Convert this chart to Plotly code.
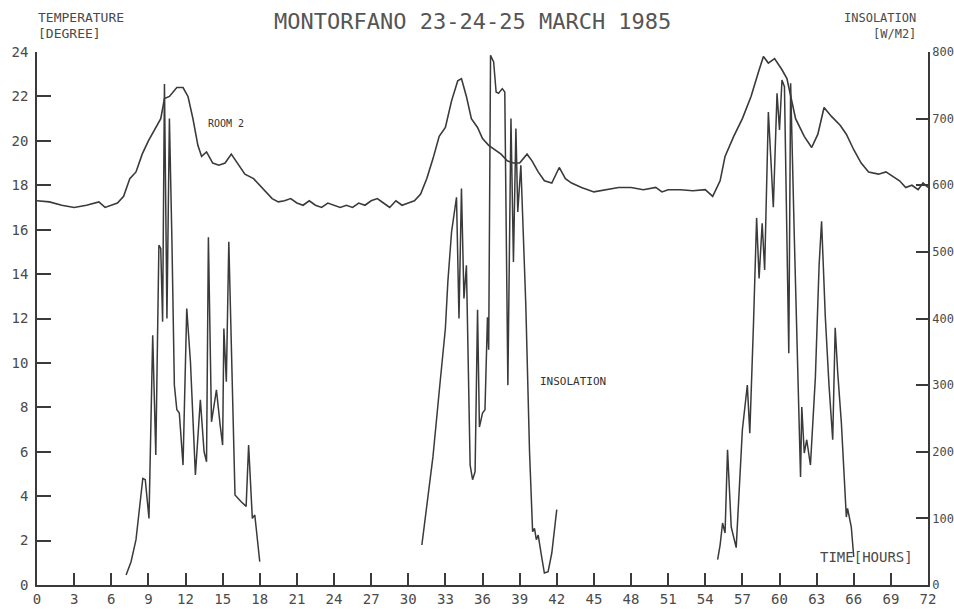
import plotly.graph_objects as go

# ---- data ----
temp_hours = [0, 1, 2, 3, 4, 5, 5.5, 6, 6.5, 7, 7.5, 8, 8.5, 9, 9.5, 10, 10.3, 10.7, 11.3, 11.8,
              12.2, 12.6, 13.0, 13.3, 13.7, 14.2, 14.7, 15.2, 15.7, 16.2, 16.8, 17.5, 18.0, 18.5,
              19.0, 19.5, 20.0, 20.5, 21.0, 21.5, 22, 22.5, 23, 23.5, 24, 24.5, 25, 25.5, 26, 26.5,
              27, 27.5, 28, 28.5, 29, 29.5, 30, 30.5, 31, 31.5, 32, 32.5, 33, 33.5, 34.0, 34.3,
              34.7, 35.1, 35.6, 36, 36.5, 37, 37.5, 38, 38.5, 39, 39.6, 40, 40.5, 41, 41.6, 42.2,
              42.7, 43.2, 44, 45, 46, 47, 48, 49, 50, 50.5, 51, 52, 53, 54, 54.6, 55.2, 55.6, 56.3,
              57, 57.7, 58.3, 58.7, 59.1, 59.6, 60.2, 60.6, 61.3, 62, 62.6, 63.1, 63.6, 64.2, 64.9,
              65.4, 66, 66.6, 67.2, 68, 68.6, 69.2, 69.7, 70.2, 70.7, 71.2, 71.6, 72]
temp_room2 = [17.3, 17.25, 17.1, 17.0, 17.1, 17.25, 17.0, 17.1, 17.2, 17.5, 18.3, 18.6, 19.4, 20.0,
              20.5, 21.0, 21.9, 22.0, 22.4, 22.4, 22.0, 21.0, 19.8, 19.3, 19.5, 19.0, 18.9, 19.0,
              19.4, 19.0, 18.5, 18.3, 18.0, 17.7, 17.4, 17.25, 17.3, 17.4, 17.2, 17.1, 17.3, 17.1,
              17.0, 17.2, 17.1, 17.0, 17.1, 17.0, 17.2, 17.1, 17.3, 17.4, 17.2, 17.0, 17.3, 17.1,
              17.2, 17.3, 17.6, 18.3, 19.2, 20.2, 20.6, 21.8, 22.7, 22.8, 22.0, 21.0, 20.6, 20.1,
              19.8, 19.6, 19.4, 19.1, 19.0, 19.0, 19.4, 19.1, 18.6, 18.2, 18.1, 18.8, 18.3, 18.1,
              17.9, 17.7, 17.8, 17.9, 17.9, 17.8, 17.9, 17.7, 17.8, 17.8, 17.75, 17.8, 17.5, 18.2,
              19.3, 20.2, 21.0, 22.0, 23.1, 23.8, 23.5, 23.7, 23.2, 22.8, 21.0, 20.2, 19.7, 20.3,
              21.5, 21.1, 20.7, 20.3, 19.6, 19.0, 18.6, 18.5, 18.6, 18.4, 18.2, 17.9, 18.0, 17.8,
              18.1, 17.9]

ins_hours_day1 = [7.2, 7.6, 8.0, 8.3, 8.55, 8.75, 9.05, 9.35, 9.6, 9.85, 10.0, 10.15, 10.3, 10.5,
                  10.7, 10.9, 11.1, 11.3, 11.5, 11.8, 12.1, 12.4, 12.8, 13.2, 13.5, 13.7, 13.85,
                  14.1, 14.5, 14.8, 15.0, 15.1, 15.3, 15.5, 15.75, 16.0, 16.5, 16.9, 17.1, 17.4,
                  17.6, 18.0]
ins_day1 = [15, 35, 68, 120, 160, 158, 100, 375, 195, 510, 505, 395, 752, 400, 700, 520, 300, 263,
            258, 180, 415, 335, 165, 278, 200, 185, 522, 245, 293, 240, 210, 385, 305, 515, 300,
            135, 125, 118, 210, 100, 105, 35]

ins_hours_day2 = [31.1, 31.5, 32.0, 32.5, 33.0, 33.2, 33.5, 33.9, 34.1, 34.3, 34.5, 34.7, 35.0,
                  35.2, 35.4, 35.6, 35.75, 36.0, 36.2, 36.4, 36.5, 36.65, 36.9, 37.1, 37.3, 37.6,
                  37.8, 38.05, 38.3, 38.5, 38.7, 38.85, 39.1, 39.5, 39.8, 40.05, 40.2, 40.35, 40.5,
                  40.8, 41.0, 41.3, 41.6, 42.0]
ins_day2 = [60, 120, 193, 290, 385, 455, 530, 582, 400, 595, 430, 480, 180, 158, 170, 413, 237,
            258, 263, 402, 353, 795, 785, 740, 738, 745, 740, 300, 700, 485, 685, 560, 630, 420,
            200, 80, 85, 68, 75, 40, 18, 20, 48, 113]

ins_hours_day3 = [55.0, 55.2, 55.4, 55.6, 55.8, 56.1, 56.5, 57.0, 57.4, 57.6, 57.9, 58.15, 58.35,
                  58.6, 58.8, 59.1, 59.3, 59.5, 59.8, 60.0, 60.2, 60.4, 60.75, 60.9, 61.2, 61.5,
                  61.7, 61.8, 62.0, 62.2, 62.5, 62.9, 63.2, 63.4, 63.7, 64.0, 64.3, 64.5, 64.7,
                  65.0, 65.4, 65.5, 65.8, 66.0]
ins_day3 = [38, 60, 93, 78, 203, 87, 56, 233, 300, 228, 393, 551, 460, 543, 473, 710, 640, 567,
            738, 683, 758, 748, 348, 753, 520, 300, 162, 267, 198, 218, 180, 312, 480, 546, 403,
            300, 218, 386, 320, 243, 102, 115, 87, 42]

x_ticks = list(range(0, 73, 3))
temp_ticks = list(range(0, 25, 2))
ins_ticks = list(range(0, 801, 100))

# ---- figure ----
LINE = "#3a3a3a"
TXT = "#4a4a4a"
FONT = "DejaVu Sans Mono"

ins_x = ins_hours_day1 + [None] + ins_hours_day2 + [None] + ins_hours_day3
ins_y = ins_day1 + [None] + ins_day2 + [None] + ins_day3

fig = go.Figure()
fig.add_trace(go.Scatter(x=temp_hours, y=temp_room2, mode="lines",
                         line=dict(color=LINE, width=1.6), name="ROOM 2", showlegend=False))
fig.add_trace(go.Scatter(x=ins_x, y=ins_y, mode="lines", yaxis="y2", connectgaps=False,
                         line=dict(color=LINE, width=1.5), name="INSOLATION", showlegend=False))

axis_common = dict(showgrid=False, zeroline=False, showline=True, linecolor=LINE, linewidth=1.6,
                   ticks="inside", tickcolor=LINE, tickwidth=1.5, automargin=False)

fig.update_layout(
    width=954, height=611,
    margin=dict(l=37, r=26, t=52, b=26, autoexpand=False),
    paper_bgcolor="white", plot_bgcolor="white",
    xaxis=dict(range=[0, 72], tickvals=x_ticks, ticklen=12,
               tickfont=dict(family=FONT, size=14, color=TXT), **axis_common),
    yaxis=dict(range=[0, 24], tickvals=temp_ticks, ticklen=14, ticklabelstandoff=4,
               tickfont=dict(family=FONT, size=14, color=TXT), **axis_common),
    yaxis2=dict(range=[0, 800], tickvals=ins_ticks, overlaying="y", side="right", ticklen=12,
                ticklabelstandoff=0, tickfont=dict(family=FONT, size=12, color=TXT),
                **axis_common),
    showlegend=False,
)

fig.add_annotation(text="MONTORFANO 23-24-25 MARCH 1985", xref="paper", yref="paper",
                   x=(472 - 37) / 891, y=(585 - 22) / 533, showarrow=False,
                   xanchor="center", yanchor="middle",
                   font=dict(family=FONT, size=22, color="#555555"))
fig.add_annotation(text="TEMPERATURE", xref="paper", yref="paper",
                   x=(36 - 37) / 891, y=(585 - 18) / 533, showarrow=False,
                   xanchor="left", yanchor="middle", font=dict(family=FONT, size=13, color=TXT))
fig.add_annotation(text="[DEGREE]", xref="paper", yref="paper",
                   x=(36 - 37) / 891, y=(585 - 34) / 533, showarrow=False,
                   xanchor="left", yanchor="middle", font=dict(family=FONT, size=13, color=TXT))
fig.add_annotation(text="INSOLATION", xref="paper", yref="paper",
                   x=(918 - 37) / 891, y=(585 - 18) / 533, showarrow=False,
                   xanchor="right", yanchor="middle", font=dict(family=FONT, size=12, color=TXT))
fig.add_annotation(text="[W/M2]", xref="paper", yref="paper",
                   x=(918 - 37) / 891, y=(585 - 34) / 533, showarrow=False,
                   xanchor="right", yanchor="middle", font=dict(family=FONT, size=12, color=TXT))
fig.add_annotation(text="ROOM 2", xref="x", yref="y", x=15.3, y=20.8, showarrow=False,
                   xanchor="center", yanchor="middle", font=dict(family=FONT, size=10, color="#333"))
fig.add_annotation(text="INSOLATION", xref="x", yref="y", x=43.3, y=9.15, showarrow=False,
                   xanchor="center", yanchor="middle", font=dict(family=FONT, size=11, color="#333"))
fig.add_annotation(text="TIME[HOURS]", xref="x", yref="y", x=67.0, y=1.26, showarrow=False,
                   xanchor="center", yanchor="middle", font=dict(family=FONT, size=14, color=TXT))

fig.write_html("out.html")
